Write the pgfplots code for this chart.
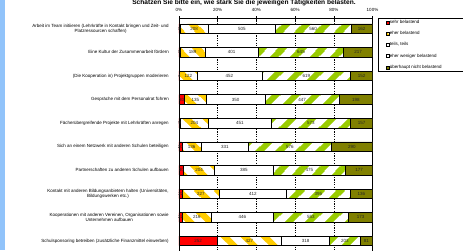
\documentclass[border=0pt]{standalone}
\usepackage{pgfplots}
\pgfplotsset{compat=1.18}
\usepackage{pgfplotstable}
\usepackage{fontspec}
\setmainfont{Liberation Sans}
\usetikzlibrary{patterns}

\pgfdeclarepatternformonly{wideNE}{\pgfqpoint{0pt}{0pt}}{\pgfqpoint{20pt}{20pt}}{\pgfqpoint{20pt}{20pt}}{%
 \pgfsetlinewidth{6pt}%
 \pgfpathmoveto{\pgfqpoint{-5pt}{-5pt}}\pgfpathlineto{\pgfqpoint{25pt}{25pt}}%
 \pgfpathmoveto{\pgfqpoint{-15pt}{5pt}}\pgfpathlineto{\pgfqpoint{5pt}{25pt}}%
 \pgfpathmoveto{\pgfqpoint{5pt}{-15pt}}\pgfpathlineto{\pgfqpoint{25pt}{5pt}}%
 \pgfusepath{stroke}}
\pgfdeclarepatternformonly{wideNW}{\pgfqpoint{0pt}{0pt}}{\pgfqpoint{20pt}{20pt}}{\pgfqpoint{20pt}{20pt}}{%
 \pgfsetlinewidth{6.5pt}%
 \pgfpathmoveto{\pgfqpoint{-5pt}{25pt}}\pgfpathlineto{\pgfqpoint{25pt}{-5pt}}%
 \pgfpathmoveto{\pgfqpoint{-10pt}{10pt}}\pgfpathlineto{\pgfqpoint{10pt}{-10pt}}%
 \pgfpathmoveto{\pgfqpoint{10pt}{30pt}}\pgfpathlineto{\pgfqpoint{30pt}{10pt}}%
 \pgfusepath{stroke}}

\definecolor{cRed}{RGB}{255,0,0}
\definecolor{cGold}{RGB}{255,204,0}
\definecolor{cGreen}{RGB}{153,204,0}
\definecolor{cOlive}{RGB}{128,128,0}
\definecolor{cStrip}{RGB}{145,195,250}

\pgfplotstableread{
y a b c d e
1 8 208 505 560 162
2 8 189 401 645 217
3 4 122 452 619 152
4 30 135 350 447 198
5 9 204 451 573 157
6 20 136 331 576 290
7 30 204 385 475 177
8 22 227 412 395 136
9 22 216 446 553 173
10 252 427 318 203 81
}\data
\pgfplotstablecreatecol[create col/expr={\thisrow{a}+\thisrow{b}+\thisrow{c}+\thisrow{d}+\thisrow{e}}]{t}{\data}

\newcommand{\tinyfont}{\fontsize{4.5}{5.2}\selectfont}

\pgfplotsset{
 geom/.style={at={(179pt,-5pt)}, anchor=south west, scale only axis,
   width=193.5pt, height=236.5pt, xmin=0, xmax=100, ymin=0.567, ymax=10.597, y dir=reverse},
 lab/.style={draw=none, mark=none, nodes near coords, point meta=explicit symbolic,
   nodes near coords style={anchor=center, font=\tinyfont, inner sep=0pt, text=black!85}},
}

\begin{document}
\begin{tikzpicture}
\useasboundingbox (0,0) rectangle (463pt,250pt);
\clip (0,0) rectangle (463pt,250pt);
\fill[white] (0,0) rectangle (463pt,250pt);
\fill[cStrip] (0,0) rectangle (4.5pt,250pt);

\begin{axis}[geom,
 xbar stacked, bar width=9.5pt,
 xtick={0,20,40,60,80,100}, xtick pos=right, xticklabel pos=right,
 xticklabel={\pgfmathprintnumber{\tick}\%},
 /pgf/number format/assume math mode=true,
 tick align=center, major tick length=4.4pt,
 xtick style={black, line width=0.5pt},
 ytick={1,...,10}, ytick style={draw=none},
 yticklabels={
  {Arbeit im Team initiieren (Lehrkräfte in Kontakt bringen und Zeit- und\\Platzressourcen schaffen)},
  {Eine Kultur der Zusammenarbeit fördern},
  {(Die Kooperation in) Projektgruppen moderieren},
  {Gespräche mit dem Personalrat führen},
  {Fächerübergreifende Projekte mit Lehrkräften anregen},
  {Sich an einem Netzwerk mit anderen Schulen beteiligen},
  {Partnerschaften zu anderen Schulen aufbauen},
  {Kontakt mit anderen Bildungsanbietern halten (Universitäten,\\Bildungswerken etc.)},
  {Kooperationen mit anderen Vereinen, Organisationen sowie\\Unternehmen aufbauen},
  {Schulsponsoring betreiben (zusätzliche Finanzmittel einwerben)}},
 tick label style={font=\tinyfont, text=black},
 yticklabel style={align=center, xshift=-4.5pt},
 xticklabel style={yshift=1pt},
 xmajorgrids, major grid style={black, line width=0.5pt, dash pattern=on 1.2pt off 1.2pt},
 axis line style={black, line width=0.6pt},
 legend image code/.code={\draw[#1, line width=0.4pt] (0pt,-1.5pt) rectangle (3pt,1.5pt);},
 legend cell align=left,
 legend style={at={(1.027,1.002)}, anchor=north west, draw=black, line width=0.6pt,
   font=\tinyfont, inner xsep=8pt, inner ysep=1.5pt, row sep=5.4pt, column sep=0pt,
   nodes={inner sep=0.5pt}},
]
\addplot[fill=cRed, draw=black, line width=0.55pt] table[x expr={100*\thisrow{a}/\thisrow{t}}, y=y] \data;
\addplot[fill=white, postaction={pattern=wideNW, pattern color=cGold}, draw=black, line width=0.55pt] table[x expr={100*\thisrow{b}/\thisrow{t}}, y=y] \data;
\addplot[fill=white, draw=black, line width=0.55pt] table[x expr={100*\thisrow{c}/\thisrow{t}}, y=y] \data;
\addplot[fill=white, postaction={pattern=wideNE, pattern color=cGreen}, draw=black, line width=0.55pt] table[x expr={100*\thisrow{d}/\thisrow{t}}, y=y] \data;
\addplot[fill=cOlive, draw=black, line width=0.55pt] table[x expr={100*\thisrow{e}/\thisrow{t}}, y=y] \data;
\legend{{\makebox[80pt][l]{sehr belastend}},{\makebox[80pt][l]{eher belastend}},{\makebox[80pt][l]{teils, teils}},{\makebox[80pt][l]{eher weniger belastend}},{\makebox[80pt][l]{überhaupt nicht belastend}}}
\end{axis}

\begin{axis}[geom, hide axis, clip=false]
\addplot[lab] table[x expr={100*(0.5*\thisrow{a})/\thisrow{t}}, y=y, meta=a] \data;
\addplot[lab] table[x expr={100*(\thisrow{a}+0.5*\thisrow{b})/\thisrow{t}}, y=y, meta=b] \data;
\addplot[lab] table[x expr={100*(\thisrow{a}+\thisrow{b}+0.5*\thisrow{c})/\thisrow{t}}, y=y, meta=c] \data;
\addplot[lab] table[x expr={100*(\thisrow{a}+\thisrow{b}+\thisrow{c}+0.5*\thisrow{d})/\thisrow{t}}, y=y, meta=d] \data;
\addplot[lab] table[x expr={100*(\thisrow{a}+\thisrow{b}+\thisrow{c}+\thisrow{d}+0.5*\thisrow{e})/\thisrow{t}}, y=y, meta=e] \data;
\end{axis}

\node[font=\bfseries\fontsize{6.6}{7.5}\selectfont, anchor=base] at (244pt,245.3pt) {Schätzen Sie bitte ein, wie stark Sie die jeweiligen Tätigkeiten belasten.};
\end{tikzpicture}
\end{document}
